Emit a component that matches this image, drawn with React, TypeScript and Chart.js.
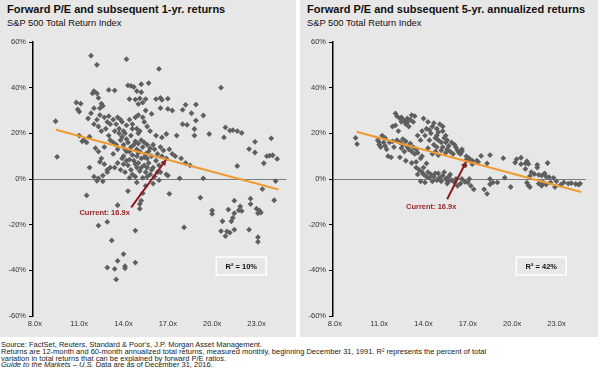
import React, { useEffect, useRef } from 'react';
import { Chart, registerables } from 'chart.js';

Chart.register(...registerables);

const FONT = "'Liberation Sans', Arial, Helvetica, sans-serif";

// ---- axis ticks ----
const xTickValues = [8, 11, 14, 17, 20, 23];
const yTickValues = [-60, -40, -20, 0, 20, 40, 60];

// ---- Forward P/E vs subsequent 1-yr returns (pe, return %) ----
const oneYearPoints: [number, number][] = [
  [9.4, 25.3], [9.5, 9.7], [11.8, 54], [12.2, 50], [14.2, 52.5], [16.4, 48.2], [20.6, 40],
  [10.8, 33.5], [10.9, 30.5], [11.1, 33], [11.0, 29.5], [11.9, 37.5], [12.0, 38.5], [12.2, 37.5], [12.3, 35.5], [12.5, 33], [12.4, 31], [12.6, 32], [13.0, 39], [13.4, 38.8],
  [14.3, 41], [14.5, 40.8], [14.7, 40.3], [15.2, 41.5], [15.7, 42], [14.9, 38.5], [15.2, 38], [15.5, 35], [14.4, 35], [14.8, 34.8], [15.1, 35.3], [16.2, 35], [16.5, 35.5], [16.6, 34.7], [17.0, 35.2], [15.0, 32.8], [15.3, 33.5],
  [15.5, 30], [15.9, 28.5], [16.5, 31], [17.0, 30.7], [17.3, 30], [18.0, 30.3], [18.2, 32.5], [18.9, 32.6], [18.6, 28.8], [18.9, 25.6], [19.4, 27.8], [18.0, 24], [18.3, 23.7], [18.8, 21.9], [18.8, 19], [19.8, 19.7], [17.6, 19], [16.6, 18.2], [16.9, 19.7], [16.2, 19],
  [20.9, 22.6], [21.2, 21.2], [21.4, 21.4], [21.7, 21], [22.0, 20.2], [20.8, 18.2], [22.9, 16.3], [22.5, 13.1], [22.9, 11.6], [24.0, 17.8], [23.5, 6.9], [23.7, 10], [23.9, 10.2], [24.1, 10.4], [24.4, 8.8], [21.7, 5.7],
  [11.0, 19], [11.3, 17], [11.5, 16], [11.2, 16.5], [11.7, 18.5], [11.6, 26.5], [11.8, 28.8], [12.0, 31], [12.4, 28], [12.7, 27], [12.9, 25], [13.0, 27.5], [13.1, 24], [13.3, 26], [12.3, 23], [12.5, 21], [12.8, 22], [12.2, 26], [12.0, 24],
  [13.5, 24], [13.7, 22], [13.9, 25], [14.0, 21], [14.1, 20], [14.4, 26], [14.6, 24], [14.8, 27], [15.0, 28], [15.3, 27], [15.4, 25], [14.9, 22], [15.1, 21], [15.0, 20], [14.5, 19], [14.6, 22], [13.6, 27], [13.8, 26], [14.2, 23.5], [13.4, 21], [15.6, 23], [15.8, 21],
  [13.0, 19], [13.1, 17], [13.3, 16], [13.5, 15], [13.7, 20], [13.8, 17], [14.0, 15], [14.1, 13], [14.3, 16], [14.5, 14], [14.7, 15], [14.9, 13], [15.1, 12], [15.3, 14], [15.5, 11], [15.7, 12], [15.9, 10], [16.1, 13], [16.3, 11], [13.9, 18.5], [14.2, 17.5], [14.4, 12], [14.8, 16.5], [15.0, 15.5], [15.2, 17], [15.4, 16], [15.6, 15], [15.8, 13.5], [16.0, 15], [13.6, 13], [13.3, 11],
  [12.3, 12], [12.5, 9], [12.4, 7.5], [12.7, 6.5], [12.9, 4], [13.1, 5], [13.4, 5], [13.6, 7], [13.9, 9], [11.7, 5], [12.0, 1], [12.3, 0.3], [12.6, 1.5], [12.9, 3], [12.1, 13.5], [12.7, 14], [12.2, -0.8], [12.6, -1],
  [14.0, 10], [14.2, 8], [14.3, 6], [14.5, 4], [14.6, 2], [14.8, 1], [14.9, 5], [15.0, 7], [15.2, 9], [15.4, 6], [15.5, 3], [15.6, 1], [15.8, 2], [16.0, 5], [16.2, 8], [16.4, 6], [16.5, 3], [14.1, 3], [14.4, 0.5], [14.7, 8], [15.1, 3.5], [15.3, 0.5], [15.7, 7], [15.9, 4], [16.1, 1], [14.9, 10], [15.6, 9], [14.2, 12], [14.6, 10.5], [15.0, 11.5], [15.4, 9.5], [13.8, 4], [14.0, 6.5], [14.4, 8.5], [14.8, 6.5], [15.2, 5], [15.6, 5], [16.3, 3],
  [16.6, 10], [16.9, 9], [17.1, 13], [17.3, 11], [17.5, 10], [17.9, 9], [18.2, 7], [18.5, 6], [16.9, 2], [17.0, 1.5], [17.8, 0.3], [19.4, 0.3], [16.7, 12.5], [16.5, 14],
  [11.5, -7.2], [12.3, -20.4], [12.9, -18.8], [13.2, -26.9], [12.9, -38.8], [13.4, -39.4], [13.5, -44], [13.6, -35.9], [14.0, -32.9], [14.1, -38.2], [14.1, -39.1], [14.8, -36.6], [14.8, -22.6], [14.3, -5.3], [15.1, -13], [15.1, -11], [15.2, -9.5], [15.3, -6.2], [13.6, -11.5], [15.5, -3], [14.9, -1.5], [16.0, -2], [16.4, -0.5], [17.1, -6.5],
  [18.1, -21.2], [19.2, -8.2], [20.0, -15.3], [20.0, -13.8], [20.7, -18.5], [20.6, -22.8], [20.9, -25], [21.0, -23], [21.2, -23.5], [21.1, -13.4], [21.3, -18.5], [21.4, -17], [21.5, -15], [21.5, -9.5], [21.5, -22.2], [21.8, -13.7], [21.9, -12], [22.0, -14], [22.5, -22.2], [22.6, -11], [22.6, -8.6], [23.0, -13], [23.1, -15], [23.2, -13.8], [23.3, -14.7], [23.1, -27.5], [23.1, -25.5], [24.2, -9.3], [23.4, -4.4], [24.3, -0.9],
];

// ---- Forward P/E vs subsequent 5-yr annualized returns (pe, return %) ----
const fiveYearPoints: [number, number][] = [
  [9.4, 18], [9.5, 15.3],
  [10.9, 17], [11.0, 15], [11.1, 14], [11.2, 19], [11.4, 18], [11.5, 13], [11.3, 16], [11.6, 10], [11.8, 9.5], [11.9, 16.5], [12.0, 14], [11.7, 16], [11.4, 14.5], [11.0, 16],
  [12.1, 28.7], [12.2, 27.5], [12.4, 26.5], [12.5, 27], [12.6, 26], [12.7, 25.5], [12.9, 24.8], [13.1, 26], [13.2, 28], [13.3, 25], [13.0, 23], [12.8, 24], [11.9, 23], [12.3, 21], [12.1, 23.5], [12.5, 25], [13.4, 27.5], [12.9, 26.5],
  [12.2, 17], [12.4, 16], [12.6, 15], [12.8, 16.5], [13.0, 13], [13.2, 12], [13.4, 11], [13.6, 11.5], [12.7, 12], [12.9, 14], [13.3, 14], [12.5, 13.5], [12.4, 9.5], [12.8, 8], [13.2, 7], [13.5, 7.5], [13.8, 9], [13.9, 10], [14.2, 6.8], [12.6, 17.5], [13.1, 15.5], [13.5, 13],
  [13.7, 4], [13.9, 3], [14.0, 2], [14.2, 1], [14.4, 0.5], [14.5, 2], [14.7, 1], [14.9, -0.5], [15.1, 0.5], [15.3, 1.5], [15.5, 0], [15.7, 1], [15.9, -0.5], [16.1, -1.5], [16.3, -3], [16.5, -2], [14.0, 5], [14.3, 3], [14.6, -1], [15.0, 2.5], [15.2, -1], [15.4, 3], [15.6, -2], [15.8, 2], [13.8, -1], [14.1, -1.5], [16.6, 0], [16.8, -1.2], [14.8, 2.5], [15.0, 0], [15.7, -1], [13.6, 2], [13.5, 5],
  [14.0, 26.5], [14.3, 25], [14.6, 23], [14.9, 22], [15.1, 24], [15.3, 21], [15.5, 19], [14.2, 22], [14.5, 20], [14.8, 18], [15.0, 17], [15.2, 16], [15.4, 18], [15.6, 17], [15.9, 16], [16.1, 15], [14.4, 17], [14.7, 15], [14.9, 14], [15.3, 14], [15.6, 13], [15.8, 12], [16.0, 11], [16.3, 12.5], [16.5, 11], [16.6, 13], [16.9, 10], [17.1, 9], [17.3, 8], [17.6, 8], [14.1, 19], [13.9, 21], [13.6, 19], [13.8, 17], [14.6, 11], [15.0, 10.5], [14.7, 24.5], [15.0, 20.5], [15.3, 23], [15.5, 16], [14.4, 21.5], [14.9, 19], [15.7, 14.5], [16.2, 13.8], [15.2, 12.5], [14.3, 13.5], [14.8, 12], [15.5, 11.5], [16.4, 11.5], [16.6, 12],
  [16.9, 8.5], [16.8, 6], [17.0, 8.2], [17.3, 6.5], [17.7, 7.5], [17.9, 10.1], [18.3, 6.8], [18.5, 10.5], [19.4, 9.1], [20.3, 8.7], [20.2, 7.2], [20.6, 6.5], [20.9, 6.8], [21.1, 6.6], [21.7, 6.2], [21.7, 5], [20.9, 4.4], [21.3, 3], [21.5, 2.2], [21.8, 1.8], [22.0, 1.5], [22.2, 2.5], [21.2, 1.3],
  [17.1, 0], [17.0, -1.5], [17.2, -3], [17.4, -4.5], [18.1, -4.5], [18.3, -6.5], [18.5, 0], [18.7, -1.5], [18.5, -2.3], [19.0, -1.5], [19.5, 0.6], [19.9, -3.5], [21.0, -1.6], [21.1, -2.8], [21.2, -3.5], [21.8, -2], [22.0, -3], [22.1, -1.5], [22.3, -2.4], [22.6, -1.5], [22.9, -3.5], [23.0, -1], [23.3, -2.5], [23.5, -1.5], [23.8, -2], [24.0, -1.8], [24.3, -2.2], [24.5, -2.5], [24.6, -2], [16.2, 0], [20.6, 9.3], [22.4, 7.0], [21.0, 7.8], [22.3, 1], [22.5, 0.8], [22.8, 0.5],
];

// ---- regression lines (endpoints, pe / %) ----
const oneYearTrend: [number, number][] = [[9.42, 21.6], [24.5, -4.6]];
const fiveYearTrend: [number, number][] = [[9.47, 20.7], [24.67, -5.7]];

// ---- annotations (data coordinates) ----
const oneYearArrow = { from: [14.52, -12.4], to: [16.9, 8.6], labelAt: [12.72, -14.8] };
const fiveYearArrow = { from: [15.6, -8.9], to: [16.9, 7.8], labelAt: [14.52, -12.4] };
const r2Box = { x0: 20.28, x1: 23.66, y0: -34.2, y1: -42 };
const currentLabel = 'Current: 16.9x';
const oneYearR2 = 'R² = 10%';
const fiveYearR2 = 'R² = 42%';

type ArrowSpec = { from: number[]; to: number[]; labelAt: number[] };

function makeAnnotPlugin(arrow: ArrowSpec, r2Text: string) {
  return {
    id: 'annot',
    afterDatasetsDraw(chart: any) {
      const { ctx } = chart;
      const xs = chart.scales.x;
      const ys = chart.scales.y;
      ctx.save();
      // arrow
      const x0 = xs.getPixelForValue(arrow.from[0]);
      const y0 = ys.getPixelForValue(arrow.from[1]);
      const x1 = xs.getPixelForValue(arrow.to[0]);
      const y1 = ys.getPixelForValue(arrow.to[1]);
      const ang = Math.atan2(y1 - y0, x1 - x0);
      const head = 6;
      ctx.strokeStyle = '#8B1C1C';
      ctx.fillStyle = '#8B1C1C';
      ctx.lineWidth = 2;
      ctx.beginPath();
      ctx.moveTo(x0, y0);
      ctx.lineTo(x1 - Math.cos(ang) * head * 0.8, y1 - Math.sin(ang) * head * 0.8);
      ctx.stroke();
      ctx.beginPath();
      ctx.moveTo(x1, y1);
      ctx.lineTo(x1 - head * Math.cos(ang) + 3 * Math.sin(ang), y1 - head * Math.sin(ang) - 3 * Math.cos(ang));
      ctx.lineTo(x1 - head * Math.cos(ang) - 3 * Math.sin(ang), y1 - head * Math.sin(ang) + 3 * Math.cos(ang));
      ctx.closePath();
      ctx.fill();
      // label
      ctx.font = `bold 7.5px ${FONT}`;
      ctx.fillStyle = '#9A2424';
      ctx.textAlign = 'center';
      ctx.textBaseline = 'middle';
      ctx.fillText(currentLabel, xs.getPixelForValue(arrow.labelAt[0]), ys.getPixelForValue(arrow.labelAt[1]));
      // R2 box
      const bx0 = xs.getPixelForValue(r2Box.x0);
      const bx1 = xs.getPixelForValue(r2Box.x1);
      const by0 = ys.getPixelForValue(r2Box.y0);
      const by1 = ys.getPixelForValue(r2Box.y1);
      ctx.strokeStyle = '#ffffff';
      ctx.lineWidth = 1.5;
      ctx.strokeRect(bx0, by0, bx1 - bx0, by1 - by0);
      ctx.fillStyle = '#111';
      ctx.font = `bold 7.5px ${FONT}`;
      ctx.fillText(r2Text, (bx0 + bx1) / 2, (by0 + by1) / 2 + 0.5);
      ctx.restore();
    },
  };
}

function ScatterChart(props: { points: [number, number][]; trend: [number, number][]; arrow: ArrowSpec; r2: string }) {
  const ref = useRef<HTMLCanvasElement>(null);
  useEffect(() => {
    if (!ref.current) return;
    Chart.defaults.font.family = FONT;
    const chart = new Chart(ref.current, {
      type: 'scatter',
      data: {
        datasets: [
          {
            type: 'line',
            data: props.trend.map(([x, y]) => ({ x, y })),
            borderColor: '#F09A32',
            borderWidth: 2,
            pointRadius: 0,
            fill: false,
            order: 1,
          } as any,
          {
            type: 'scatter',
            data: props.points.map(([x, y]) => ({ x, y })),
            pointStyle: 'rectRot',
            pointRadius: 2.9,
            backgroundColor: '#5f5f5f',
            borderWidth: 0,
            order: 2,
          } as any,
        ],
      },
      options: {
        responsive: false,
        animation: false,
        events: [],
        layout: { padding: { left: 0, top: 42, right: 10, bottom: 5 } },
        plugins: { legend: { display: false }, tooltip: { enabled: false } },
        scales: {
          x: {
            type: 'linear',
            min: 7.87,
            max: 25,
            afterBuildTicks: (s: any) => {
              s.ticks = xTickValues.map((v) => ({ value: v }));
            },
            afterFit: (s: any) => {
              s.height = 16;
            },
            grid: { display: false, drawTicks: false },
            border: { display: false },
            ticks: {
              callback: (v: any) => Number(v).toFixed(1) + 'x',
              color: '#333',
              font: { size: 7.5, family: FONT },
              padding: 3,
              maxRotation: 0,
              autoSkip: false,
            },
          },
          y: {
            type: 'linear',
            min: -60,
            max: 60,
            afterBuildTicks: (s: any) => {
              s.ticks = yTickValues.map((v) => ({ value: v }));
            },
            afterFit: (s: any) => {
              s.width = 33;
            },
            grid: {
              color: (c: any) => (c.tick && c.tick.value === 0 ? '#7c7c7c' : 'rgba(0,0,0,0)'),
              tickColor: '#000',
              tickLength: 4,
              lineWidth: 1,
            },
            border: { color: '#000', width: 1.5 },
            ticks: {
              callback: (v: any) => v + '%',
              color: '#333',
              font: { size: 7.5, family: FONT },
              padding: 3,
              autoSkip: false,
            },
          },
        },
      } as any,
      plugins: [makeAnnotPlugin(props.arrow, props.r2)],
    });
    return () => chart.destroy();
  }, []);
  return <canvas ref={ref} width={296} height={337} style={{ position: 'absolute', left: 0, top: 0, width: 296, height: 337 }} />;
}

const titleStyle: React.CSSProperties = {
  position: 'absolute',
  top: 3,
  fontFamily: FONT,
  fontWeight: 'bold',
  fontSize: 11,
  lineHeight: '13px',
  color: '#111',
  whiteSpace: 'nowrap',
};
const subStyle: React.CSSProperties = {
  position: 'absolute',
  top: 17.5,
  fontFamily: FONT,
  fontSize: 9.3,
  lineHeight: '10px',
  color: '#111',
  whiteSpace: 'nowrap',
};

function Panel(props: { left: number; width: number; title: string; points: [number, number][]; trend: [number, number][]; arrow: ArrowSpec; r2: string }) {
  return (
    <div style={{ position: 'absolute', left: props.left, top: 0, width: 296, height: 337 }}>
      <div style={{ position: 'absolute', left: 0, top: 0, width: props.width, height: 337, background: '#e7e7e7' }} />
      <div style={{ ...titleStyle, left: 7 }}>{props.title}</div>
      <div style={{ ...subStyle, left: 7 }}>S&amp;P 500 Total Return Index</div>
      <ScatterChart points={props.points} trend={props.trend} arrow={props.arrow} r2={props.r2} />
    </div>
  );
}

export default function App() {
  return (
    <div style={{ position: 'absolute', left: 0, top: 0, width: 600, height: 373, background: '#fff', overflow: 'hidden' }}>
      <Panel left={0} width={296} title="Forward P/E and subsequent 1-yr. returns" points={oneYearPoints} trend={oneYearTrend} arrow={oneYearArrow} r2={oneYearR2} />
      <Panel left={300} width={298} title="Forward P/E and subsequent 5-yr. annualized returns" points={fiveYearPoints} trend={fiveYearTrend} arrow={fiveYearArrow} r2={fiveYearR2} />
      <div style={{ position: 'absolute', left: 1, top: 342, fontFamily: FONT, fontSize: 7.5, lineHeight: '6.8px', color: '#222', whiteSpace: 'nowrap' }}>
        <div>Source: FactSet, Reuters, Standard &amp; Poor's, J.P. Morgan Asset Management.</div>
        <div>Returns are 12-month and 60-month annualized total returns, measured monthly, beginning December 31, 1991. R² represents the percent of total</div>
        <div>variation in total returns that can be explained by forward P/E ratios.</div>
        <div><i>Guide to the Markets – U.S.</i> Data are as of December 31, 2016.</div>
      </div>
    </div>
  );
}
